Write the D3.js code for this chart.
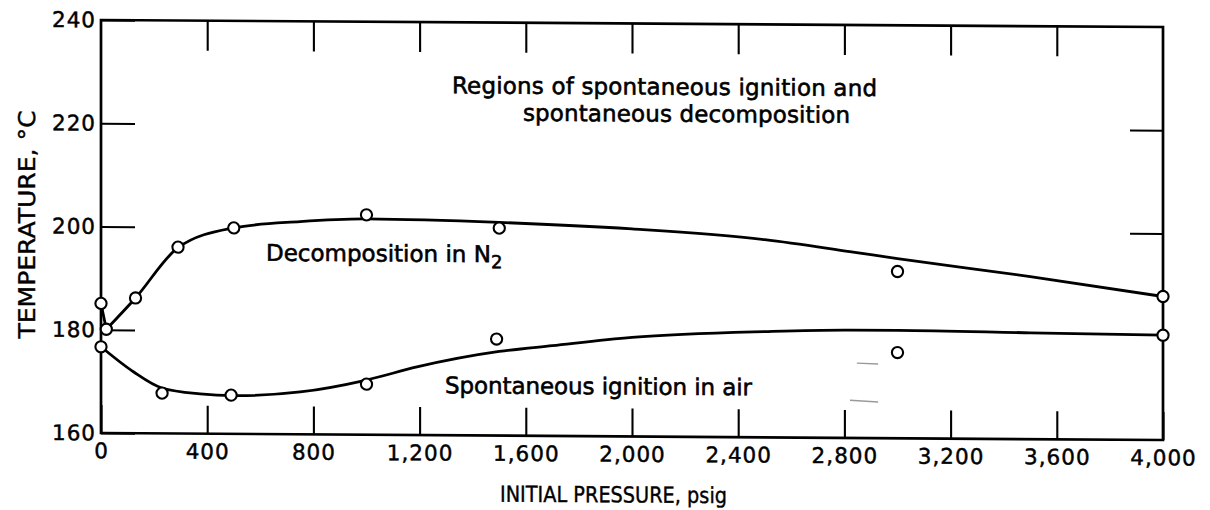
<!DOCTYPE html>
<html>
<head>
<meta charset="utf-8">
<script src="https://cdn.jsdelivr.net/npm/d3@7"></script>
<style>
  html, body { margin: 0; padding: 0; background: #fff; }
  svg { display: block; }
  text { font-family: "DejaVu Sans", sans-serif; fill: #000; }
</style>
</head>
<body>
<svg id="chart" width="1210" height="510"></svg>
<script>
// Axis tick values
const pressureTicks = [0, 400, 800, 1200, 1600, 2000, 2400, 2800, 3200, 3600, 4000];
const temperatureTicks = [160, 180, 200, 220, 240];
const innerPressureTicks = [400, 800, 1200, 1600, 2000, 2400, 2800, 3200, 3600];
const rightTemperatureTicks = [200, 220];

// Measured points: decomposition in nitrogen
const n2Pressure = [0, 20, 130, 290, 500, 1000, 1500, 3000, 4000];
const n2Temp = [185.1, 180.1, 186.2, 196.1, 199.9, 202.6, 200.2, 192.3, 187.8];

// Measured points: spontaneous ignition in air
const airPressure = [0, 230, 490, 1000, 1490, 3000, 4000];
const airTemp = [176.7, 167.8, 167.5, 169.8, 178.7, 176.6, 180.3];

// Faired curve through the nitrogen points
const n2CurvePressure = [0, 20, 130, 290, 500, 750, 1000, 1500, 2000, 2500, 2820, 3000, 3500, 4000];
const n2CurveTemp = [185.1, 180.1, 186.2, 196.0, 199.9, 201.2, 201.8, 201.3, 200.2, 198.3, 196.1, 194.8, 191.5, 187.8];

// Faired curve through the air points
const airCurvePressure = [0, 122, 229, 373, 500, 750, 1000, 1190, 1500, 1700, 2000, 2500, 2820, 3000, 3500, 4000];
const airCurveTemp = [176.7, 171.9, 168.8, 167.7, 167.4, 168.2, 170.6, 173.2, 176.3, 177.5, 179.2, 180.5, 180.9, 180.9, 180.6, 180.3];

// Two short stray pen strokes on the sheet, in data units [p0, t0, p1, t1]
const strayStrokes = [[2847, 174.5, 2927, 174.35], [2821, 167.3, 2927, 167.0]];

const svg = d3.select("#chart");
const plotLeft = 101, plotRight = 1163, plotTop = 20, plotBottom = 433;

const x = d3.scaleLinear().domain([0, 4000]).range([plotLeft, plotRight]);
const y = d3.scaleLinear().domain([160, 240]).range([plotBottom, plotTop]);

// The sheet is slightly sheared: horizontal lines fall toward the right
const shear = 0.0066;
const g = svg.append("g")
  .attr("transform", `matrix(1,${shear},0,1,0,${-shear * plotLeft})`);

// Frame
g.append("rect")
  .attr("x", x(0)).attr("y", y(240))
  .attr("width", x(4000) - x(0)).attr("height", y(160) - y(240))
  .attr("fill", "none").attr("stroke", "#000").attr("stroke-width", 2.7);

const fmt = d3.format(",");

function styleAxis(sel) {
  sel.select(".domain").remove();
  sel.selectAll(".tick line").attr("stroke", "#000").attr("stroke-width", 2.1);
  sel.selectAll("text")
    .attr("font-family", "DejaVu Sans, sans-serif")
    .attr("font-size", 21.5)
    .attr("letter-spacing", "1px")
    .attr("fill", "#000")
    .attr("stroke", "#000").attr("stroke-width", 0.45);
}

// Bottom axis with labels, ticks pointing inward
g.append("g")
  .attr("transform", `translate(0,${plotBottom})`)
  .call(d3.axisBottom(x).tickValues(pressureTicks).tickSize(-28).tickPadding(10).tickFormat(fmt))
  .call(styleAxis);

// Top inward ticks
g.append("g")
  .attr("transform", `translate(0,${plotTop})`)
  .call(d3.axisTop(x).tickValues(innerPressureTicks).tickSize(-30).tickFormat(""))
  .call(styleAxis);

// Left axis with labels, ticks pointing inward
g.append("g")
  .attr("transform", `translate(${plotLeft},0)`)
  .call(d3.axisLeft(y).tickValues(temperatureTicks).tickSize(-34).tickPadding(5))
  .call(styleAxis);

// Right inward ticks
g.append("g")
  .attr("transform", `translate(${plotRight},0)`)
  .call(d3.axisRight(y).tickValues(rightTemperatureTicks).tickSize(-33).tickFormat(""))
  .call(styleAxis);

// Stray strokes
g.selectAll("line.stray").data(strayStrokes).join("line")
  .attr("class", "stray")
  .attr("x1", d => x(d[0])).attr("y1", d => y(d[1]))
  .attr("x2", d => x(d[2])).attr("y2", d => y(d[3]))
  .attr("stroke", "#9a9a9a").attr("stroke-width", 1.4);

// Curves
const n2Curve = n2CurvePressure.map((p, i) => [p, n2CurveTemp[i]]);
const airCurve = airCurvePressure.map((p, i) => [p, airCurveTemp[i]]);

const lineLinear = d3.line().x(d => x(d[0])).y(d => y(d[1]));
const lineSmooth = d3.line().x(d => x(d[0])).y(d => y(d[1])).curve(d3.curveMonotoneX);

const curveStyle = sel => sel.attr("fill", "none").attr("stroke", "#000")
  .attr("stroke-width", 2.8).attr("stroke-linejoin", "round").attr("stroke-linecap", "round");

g.append("path").attr("d", lineLinear(n2Curve.slice(0, 2))).call(curveStyle);
g.append("path").attr("d", lineSmooth(n2Curve.slice(1))).call(curveStyle);
g.append("path").attr("d", lineSmooth(airCurve)).call(curveStyle);

// Points
const n2Points = n2Pressure.map((p, i) => [p, n2Temp[i]]);
const airPoints = airPressure.map((p, i) => [p, airTemp[i]]);

g.selectAll("circle.pt").data(n2Points.concat(airPoints)).join("circle")
  .attr("class", "pt")
  .attr("cx", d => x(d[0])).attr("cy", d => y(d[1]))
  .attr("r", 5.6)
  .attr("fill", "#fff").attr("stroke", "#000").attr("stroke-width", 2.1);

// Annotations
const label = (txt, px, py, len) => g.append("text")
  .attr("x", px).attr("y", py)
  .attr("font-size", 23)
  .attr("stroke", "#000").attr("stroke-width", 0.6)
  .attr("textLength", len).attr("lengthAdjust", "spacing")
  .text(txt);

label("Regions of spontaneous ignition and", 452, 91, 425);
label("spontaneous decomposition", 523, 118, 327);
label("Spontaneous ignition in air", 445, 391, 307);

const dec = g.append("text")
  .attr("x", 266).attr("y", 259.6)
  .attr("font-size", 23)
  .attr("stroke", "#000").attr("stroke-width", 0.6);
dec.append("tspan").text("Decomposition in N");
dec.append("tspan").attr("dy", 6).attr("font-size", 18).text("2");

// Axis titles
g.append("text")
  .attr("x", 500).attr("y", 499)
  .attr("font-size", 22)
  .attr("stroke", "#000").attr("stroke-width", 0.4)
  .attr("textLength", 227).attr("lengthAdjust", "spacingAndGlyphs")
  .text("INITIAL PRESSURE, psig");

g.append("text")
  .attr("transform", "translate(35,225) rotate(-90)")
  .attr("text-anchor", "middle")
  .attr("font-size", 23)
  .attr("stroke", "#000").attr("stroke-width", 0.4)
  .attr("textLength", 228).attr("lengthAdjust", "spacingAndGlyphs")
  .text("TEMPERATURE, °C");
</script>
</body>
</html>
